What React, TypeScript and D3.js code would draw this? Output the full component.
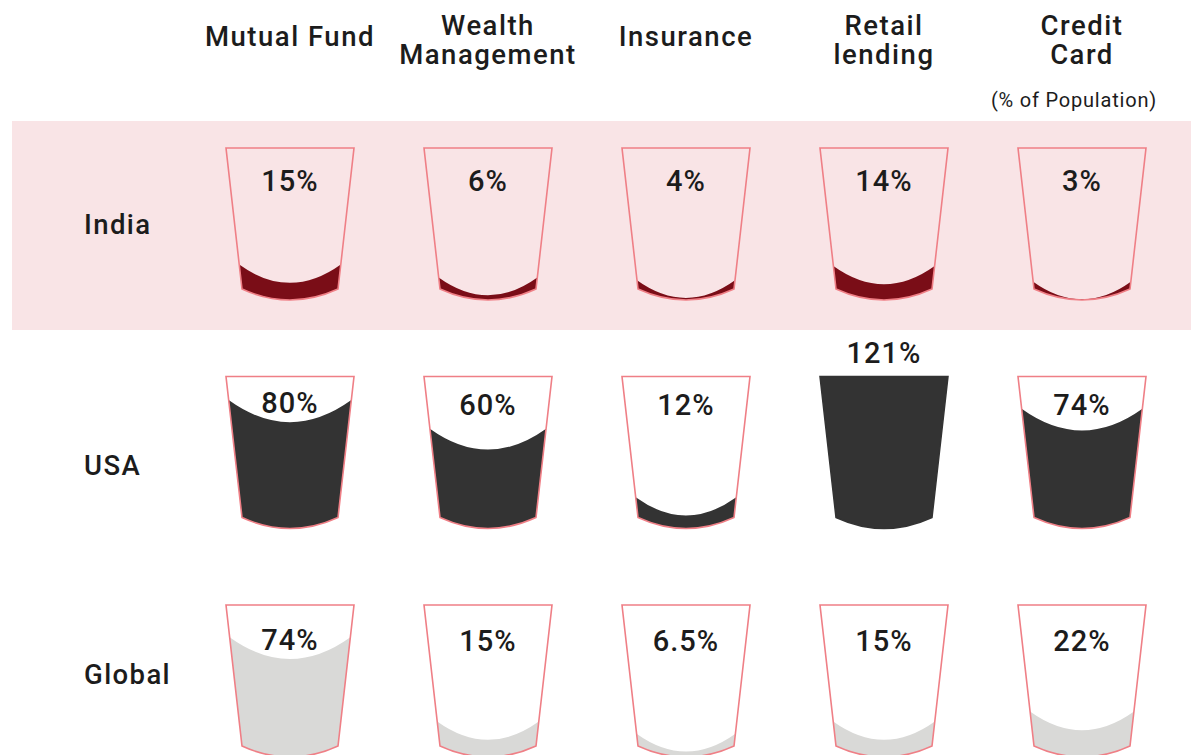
import React from "react";
import * as d3 from "d3";

// ---------- data ----------
const categories = ["Mutual Fund", "Wealth Management", "Insurance", "Retail lending", "Credit Card"];
const categoryLines = [["Mutual Fund"], ["Wealth", "Management"], ["Insurance"], ["Retail", "lending"], ["Credit", "Card"]];
const regions = ["India", "USA", "Global"];
const indiaValues = [15, 6, 4, 14, 3];
const usaValues = [80, 60, 12, 121, 74];
const globalValues = [74, 15, 6.5, 15, 22];
const unitNote = "(% of Population)";

// ---------- styles / layout ----------
const W = 1191;
const H = 755;
const FONT = "Roboto, 'Liberation Sans', Arial, sans-serif";
const TEXT = "#1c1c1c";
const OUTLINE = "#ef7f86";
const BAND = "#f9e4e6";
const regionFill = ["#7a0d17", "#333333", "#d9d9d7"];
const rowLabelDy = [86, 98, 79];
const pctLabelDy = [43, 38, 46];

const TOP_HW = 64;
const BOT_HW = 48;
const WALL_H = 141;
const BOT_SAG = 11;

export default function App() {
  const series = [indiaValues, usaValues, globalValues];
  const x = d3.scalePoint<string>().domain(categories).range([290, 1082]);
  const rowY = d3.scalePoint<string>().domain(regions).range([148, 605]);
  const fillScale = d3.scaleLinear().domain([0, 100]).range([3, 146]).clamp(true);

  const cupPath = (cx: number, top: number) => {
    const p = d3.path();
    const bot = top + WALL_H;
    p.moveTo(cx - TOP_HW, top);
    p.lineTo(cx + TOP_HW, top);
    p.lineTo(cx + BOT_HW, bot);
    p.quadraticCurveTo(cx, bot + 2 * BOT_SAG, cx - BOT_HW, bot);
    p.closePath();
    return p.toString();
  };

  const liquid = (cx: number, top: number, v: number) => {
    const bot = top + WALL_H;
    const h = fillScale(v);
    const ys = bot - h;
    const hw = BOT_HW + (TOP_HW - BOT_HW) * (h / WALL_H);
    const sag = 0.36 * hw;
    const p = d3.path();
    p.moveTo(cx - hw - 30, ys);
    p.lineTo(cx - hw, ys);
    p.quadraticCurveTo(cx, ys + 2 * sag, cx + hw, ys);
    p.lineTo(cx + hw + 30, ys);
    p.lineTo(cx + hw + 30, bot + 40);
    p.lineTo(cx - hw - 30, bot + 40);
    p.closePath();
    return { d: p.toString(), center: ys + sag };
  };

  return (
    <svg
      width={W}
      height={H}
      style={{ position: "absolute", left: 0, top: 0, background: "#fff" }}
      fontFamily={FONT}
    >
      <rect x={12} y={121} width={W - 12} height={209} fill={BAND} />

      {/* column headers */}
      {categories.map((c, i) => {
        const lines = categoryLines[i];
        const base = lines.length === 1 ? [46] : [35, 64];
        return (
          <text
            key={c}
            x={x(c)}
            textAnchor="middle"
            fontSize={27.5}
            fontWeight={500}
            letterSpacing={1.5}
            fill={TEXT}
          >
            {lines.map((l, j) => (
              <tspan key={j} x={x(c)} y={base[j]}>
                {l}
              </tspan>
            ))}
          </text>
        );
      })}
      <text x={1157} y={107} textAnchor="end" fontSize={20} letterSpacing={0.8} fill={TEXT}>
        {unitNote}
      </text>

      {regions.map((r, ri) => {
        const top = rowY(r) as number;
        return (
          <g key={r}>
            <text
              x={84}
              y={top + rowLabelDy[ri]}
              fontSize={27.5}
              fontWeight={500}
              letterSpacing={1.4}
              fill={TEXT}
            >
              {r}
            </text>
            {categories.map((c, ci) => {
              const v = series[ri][ci];
              const cx = x(c) as number;
              const id = `clip-${ri}-${ci}`;
              const over = v >= 100;
              const liq = liquid(cx, top, v);
              const labelY = over
                ? top - 14
                : Math.min(top + pctLabelDy[ri], liq.center - 9);
              return (
                <g key={c}>
                  <defs>
                    <clipPath id={id}>
                      <path d={cupPath(cx, top)} />
                    </clipPath>
                  </defs>
                  {over ? (
                    <path
                      d={cupPath(cx, top)}
                      fill={regionFill[ri]}
                      stroke={regionFill[ri]}
                      strokeWidth={1.5}
                    />
                  ) : (
                    <>
                      <path d={liq.d} fill={regionFill[ri]} clipPath={`url(#${id})`} />
                      <path d={cupPath(cx, top)} fill="none" stroke={OUTLINE} strokeWidth={1.6} />
                    </>
                  )}
                  <text
                    x={cx}
                    y={labelY}
                    textAnchor="middle"
                    fontSize={29}
                    fontWeight={500}
                    letterSpacing={1}
                    fill={TEXT}
                  >
                    {`${v}%`}
                  </text>
                </g>
              );
            })}
          </g>
        );
      })}
    </svg>
  );
}
